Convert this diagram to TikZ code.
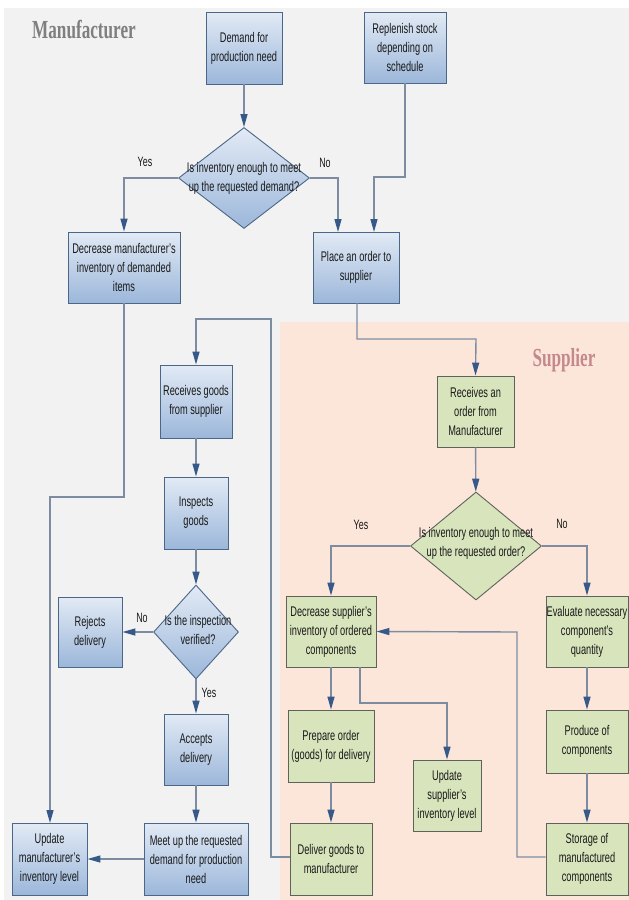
\documentclass[tikz,border=0pt]{standalone}
\usepackage{fontspec}
\setmainfont{Liberation Sans}[FakeStretch=0.66]
\newfontfamily\titlefont{Liberation Serif}[FakeStretch=0.66]
\usetikzlibrary{arrows.meta,shapes.geometric}
\definecolor{bggray}{HTML}{F2F2F2}
\definecolor{peach}{HTML}{FCE6DA}
\definecolor{bluetop}{HTML}{E2EAF5}
\definecolor{bluebot}{HTML}{9CB7DA}
\definecolor{blueedge}{HTML}{4A6788}
\definecolor{greenfill}{HTML}{D8E4BC}
\definecolor{greenedge}{HTML}{5F625A}
\definecolor{linecol}{HTML}{7E8CA2}
\definecolor{tipcol}{HTML}{36598A}
\definecolor{titlegray}{HTML}{7F7F7F}
\definecolor{titlerose}{HTML}{C4898B}
\tikzset{
  txt/.style={font=\fontsize{14}{19}\selectfont, align=center, text=black!90},
  bbox/.style={txt, rectangle, draw=blueedge, line width=0.9pt, top color=bluetop, bottom color=bluebot, inner sep=0pt},
  gbox/.style={txt, rectangle, draw=greenedge, line width=0.9pt, fill=greenfill, inner sep=0pt},
  bdia/.style={diamond, draw=blueedge, line width=0.9pt, top color=bluetop, bottom color=bluebot, inner sep=0pt},
  gdia/.style={diamond, draw=greenedge, line width=0.9pt, fill=greenfill, inner sep=0pt},
  conn/.style={draw=linecol, line width=1.4pt},
  arr/.style={conn, -{Triangle[length=13pt,width=7pt,color=tipcol]}},
  lbl/.style={font=\fontsize{13.5}{15}\selectfont, text=black!90},
  sz/.style 2 args={minimum width=#1, minimum height=#2}
}
\begin{document}
\begin{tikzpicture}[x=1pt,y=-1pt]
\useasboundingbox (0,0) rectangle (629,900);
\fill[white] (0,0) rectangle (629,900);
\fill[bggray] (4,8) rectangle (629,900);
\fill[peach] (280,322) rectangle (629,900);

\node[font=\titlefont\bfseries\fontsize{26}{28}\selectfont, text=titlegray] (tman) at (84,30) {Manufacturer};
\node[font=\titlefont\bfseries\fontsize{26}{28}\selectfont, text=titlerose] (tsup) at (564,360) {Supplier};

% manufacturer side
\node[bbox, sz={76}{72}] (demand) at (244,48) {Demand for\\production need};
\node[bbox, sz={82}{71}] (replen) at (405,47.5) {Replenish stock\\depending on\\schedule};
\node[bdia, sz={131}{101}] (d1) at (244,178) {};
\node[txt] (d1t) at (244,178) {Is inventory enough to meet\\up the requested demand?};
\node[bbox, sz={112}{71}] (decm) at (124,267.5) {Decrease manufacturer's\\inventory of demanded\\items};
\node[bbox, sz={86}{71}] (place) at (356,267.5) {Place an order to\\supplier};
\node[bbox, sz={72}{73}] (recvg) at (196,401.5) {Receives goods\\from supplier};
\node[bbox, sz={64}{72}] (insp) at (196,513) {Inspects\\goods};
\node[bdia, sz={85}{94}] (d3) at (196,632) {};
\node[txt] (d3t) at (198,630) {Is the inspection\\verified?};
\node[bbox, sz={64}{70}] (rej) at (90,632) {Rejects\\delivery};
\node[bbox, sz={64}{71}] (acc) at (196,749.5) {Accepts\\delivery};
\node[bbox, sz={104}{72}] (meet) at (196,859) {Meet up the requested\\demand for production\\need};
\node[bbox, sz={75}{72}] (updm) at (49.5,859) {Update\\manufacturer's\\inventory level};

% supplier side
\node[gbox, sz={77}{71}] (recvo) at (475.5,411.5) {Receives an\\order from\\Manufacturer};
\node[gdia, sz={131}{108}] (d2) at (476,546) {};
\node[txt] (d2t) at (476,543) {Is inventory enough to meet\\up the requested order?};
\node[gbox, sz={90}{71}] (decs) at (331,631.5) {Decrease supplier's\\inventory of ordered\\components};
\node[gbox, sz={82}{71}] (eval) at (587,631.5) {Evaluate necessary\\component's\\quantity};
\node[gbox, sz={86}{72}] (prep) at (331,746) {Prepare order\\(goods) for delivery};
\node[gbox, sz={68}{71}] (upds) at (447,795.5) {Update\\supplier's\\inventory level};
\node[gbox, sz={82}{72}] (deliv) at (331,859) {Deliver goods to\\manufacturer};
\node[gbox, sz={82}{63}] (prod) at (587,741.5) {Produce of\\components};
\node[gbox, sz={82}{72}] (stor) at (587,859) {Storage of\\manufactured\\components};

% labels
\node[lbl] (y1) at (145,162) {Yes};
\node[lbl] (n1) at (325,163) {No};
\node[lbl] (y2) at (361,525) {Yes};
\node[lbl] (n2) at (562,524) {No};
\node[lbl] (n3) at (142,618) {No};
\node[lbl] (y3) at (209,693) {Yes};

% bend coordinates
\coordinate (p1) at (338,232);
\coordinate (p2) at (374,232);
\coordinate (b1) at (405,177);
\coordinate (b2) at (357,339);
\coordinate (b3) at (476,339);
\coordinate (p3) at (360,667);
\coordinate (b4) at (360,703);
\coordinate (b5) at (517,632);
\coordinate (b6) at (271,857);
\coordinate (b7) at (271,319);
\coordinate (b8) at (196,319);
\coordinate (p4) at (124,303);
\coordinate (b9) at (124,497);
\coordinate (b10) at (50,497);
\coordinate (p5) at (50,823);
\coordinate (p6) at (357,303);

% connectors
\draw[arr] (demand) -- (d1);
\draw[arr] (d1.west) -| (decm.north);
\draw[arr] (d1.east) -| (p1);
\draw[arr] (replen.south) -- (b1) -| (p2);
\draw[arr] (p6) -- (b2) -- (b3) -- (recvo.north);
\draw[arr] (recvo) -- (d2);
\draw[arr] (d2.west) -| (decs.north);
\draw[arr] (d2.east) -| (eval.north);
\draw[arr] (decs) -- (prep);
\draw[arr] (p3) -- (b4) -| (upds.north);
\draw[arr] (prep) -- (deliv);
\draw[arr] (eval) -- (prod);
\draw[arr] (prod) -- (stor);
\draw[arr] (stor.west |- 0,857) -- (b5 |- 0,857) -- (b5) -- (decs.east);
\draw[arr] (deliv.west |- 0,857) -- (b6) -- (b7) -- (b8) -- (recvg.north);
\draw[arr] (recvg) -- (insp);
\draw[arr] (insp) -- (d3);
\draw[arr] (d3.west) -- (rej.east);
\draw[arr] (d3.south) -- (acc.north);
\draw[arr] (acc) -- (meet);
\draw[arr] (meet.west) -- (updm.east);
\draw[arr] (p4) -- (b9) -- (b10) -- (p5);
\end{tikzpicture}
\end{document}
